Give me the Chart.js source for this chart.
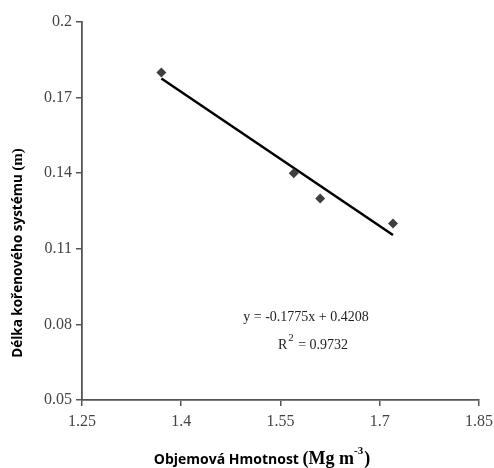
<!DOCTYPE html>
<html>
<head>
<meta charset="utf-8">
<script src="https://cdn.jsdelivr.net/npm/chart.js@4/dist/chart.umd.min.js"></script>
<style>
html,body{margin:0;padding:0;background:#fff;}
#wrap{width:494px;height:468px;position:relative;}
</style>
</head>
<body>
<div id="wrap"><canvas id="c" width="494" height="468"></canvas></div>
<script>
const pointX = [1.37, 1.57, 1.61, 1.72];
const pointY = [0.18, 0.14, 0.13, 0.12];
const trendX = [1.37, 1.72];
const trendY = [0.1776, 0.1155];
const xTicks = [1.25, 1.4, 1.55, 1.7, 1.85];
const yTicks = [0.05, 0.08, 0.11, 0.14, 0.17, 0.2];
const equationText = "y = -0.1775x + 0.4208";
const r2Label = "R";
const r2Sup = "2";
const r2Value = " = 0.9732";
const yTitleSans = "Délka kořenového systému ";
const yTitleSerif = "(m)";
const xTitleSans = "Objemová Hmotnost ";
const xTitleSerif = "(Mg m";
const xTitleSup = "-3";
const xTitleEnd = ")";

const textPlugin = {
  id: 'textPlugin',
  afterDraw(chart) {
    const ctx = chart.ctx;
    ctx.save();
    ctx.fillStyle = '#222';
    ctx.textBaseline = 'middle';
    // equation
    ctx.font = '14px "Liberation Serif", "Times New Roman", serif';
    ctx.textAlign = 'center';
    ctx.fillText(equationText, 306, 317);
    // R^2
    ctx.textAlign = 'left';
    const f1 = '14px "Liberation Serif", serif', f2 = '11px "Liberation Serif", serif';
    ctx.font = f1; const wR = ctx.measureText(r2Label).width;
    ctx.font = f2; const wS = ctx.measureText(r2Sup).width;
    ctx.font = f1; const wV = ctx.measureText(r2Value).width;
    let x0 = 313 - (wR + wS + 2 + wV) / 2;
    ctx.font = f1; ctx.fillText(r2Label, x0, 345);
    ctx.font = f2; ctx.fillText(r2Sup, x0 + wR + 1, 338);
    ctx.font = f1; ctx.fillText(r2Value, x0 + wR + wS + 2, 345);

    // x title
    const fs = 'bold 14px "Open Sans", sans-serif';
    const fse = 'bold 18px "Liberation Serif", serif';
    const fsup = 'bold 11px "Liberation Serif", serif';
    ctx.fillStyle = '#000';
    ctx.font = fs; const a = ctx.measureText(xTitleSans).width;
    ctx.font = fse; const b = ctx.measureText(xTitleSerif).width;
    ctx.font = fsup; const cc = ctx.measureText(xTitleSup).width;
    ctx.font = fse; const d = ctx.measureText(xTitleEnd).width;
    const total = a + b + cc + d + 1;
    let tx = 262 - total / 2;
    const ty = 460;
    ctx.font = fs; ctx.fillText(xTitleSans, tx, ty); tx += a;
    ctx.font = fse; ctx.fillText(xTitleSerif, tx, ty - 1); tx += b;
    ctx.font = fsup; ctx.fillText(xTitleSup, tx, ty - 9); tx += cc + 1;
    ctx.font = fse; ctx.fillText(xTitleEnd, tx, ty - 1);

    // y title
    ctx.save();
    ctx.translate(18, 253);
    ctx.rotate(-Math.PI / 2);
    const fys = 'bold 13.5px "Open Sans", sans-serif';
    const fyse = 'bold 15px "Liberation Serif", serif';
    ctx.font = fys; const ya = ctx.measureText(yTitleSans).width;
    ctx.font = fyse; const yb = ctx.measureText(yTitleSerif).width;
    let yx = -(ya + yb) / 2;
    ctx.font = fys; ctx.fillText(yTitleSans, yx, 0);
    ctx.font = fyse; ctx.fillText(yTitleSerif, yx + ya, 0);
    ctx.restore();
    ctx.restore();
  }
};

const fmt = v => String(+Number(v).toFixed(3));

new Chart(document.getElementById('c'), {
  type: 'scatter',
  data: {
    datasets: [
      {
        label: 'trend',
        type: 'line',
        data: trendX.map((x, i) => ({x, y: trendY[i]})),
        borderColor: '#000',
        borderWidth: 2.5,
        pointRadius: 0,
        fill: false,
        order: 2
      },
      {
        label: 'data',
        data: pointX.map((x, i) => ({x, y: pointY[i]})),
        pointStyle: 'rectRot',
        pointRadius: 5,
        backgroundColor: '#3f3f3f',
        borderColor: '#3f3f3f',
        borderWidth: 0,
        order: 1
      }
    ]
  },
  options: {
    responsive: false,
    animation: false,
    layout: { padding: { top: 22, right: 15, left: 0, bottom: 0 } },
    plugins: { legend: { display: false }, tooltip: { enabled: false } },
    scales: {
      x: {
        type: 'linear',
        min: 1.25, max: 1.85,
        afterBuildTicks: s => { s.ticks = xTicks.map(v => ({value: v})); },
        afterFit: s => { s.height = 68; s.paddingLeft = 0; s.paddingRight = 0; },
        grid: { drawOnChartArea: false, drawTicks: true, tickLength: 6, color: '#555', lineWidth: 1.5 },
        border: { display: true, color: '#555', width: 1.8 },
        ticks: { callback: fmt, color: '#444', padding: 6, maxRotation: 0,
                 font: { family: '"Liberation Serif", serif', size: 16 } }
      },
      y: {
        type: 'linear',
        min: 0.05, max: 0.2,
        afterBuildTicks: s => { s.ticks = yTicks.map(v => ({value: v})); },
        afterFit: s => { s.width = 82; s.paddingTop = 0; s.paddingBottom = 0; },
        grid: { drawOnChartArea: false, drawTicks: true, tickLength: 6, color: '#555', lineWidth: 1.5 },
        border: { display: true, color: '#555', width: 1.8 },
        ticks: { callback: fmt, color: '#444', padding: 4,
                 font: { family: '"Liberation Serif", serif', size: 16 } }
      }
    }
  },
  plugins: [textPlugin]
});
</script>
</body>
</html>
